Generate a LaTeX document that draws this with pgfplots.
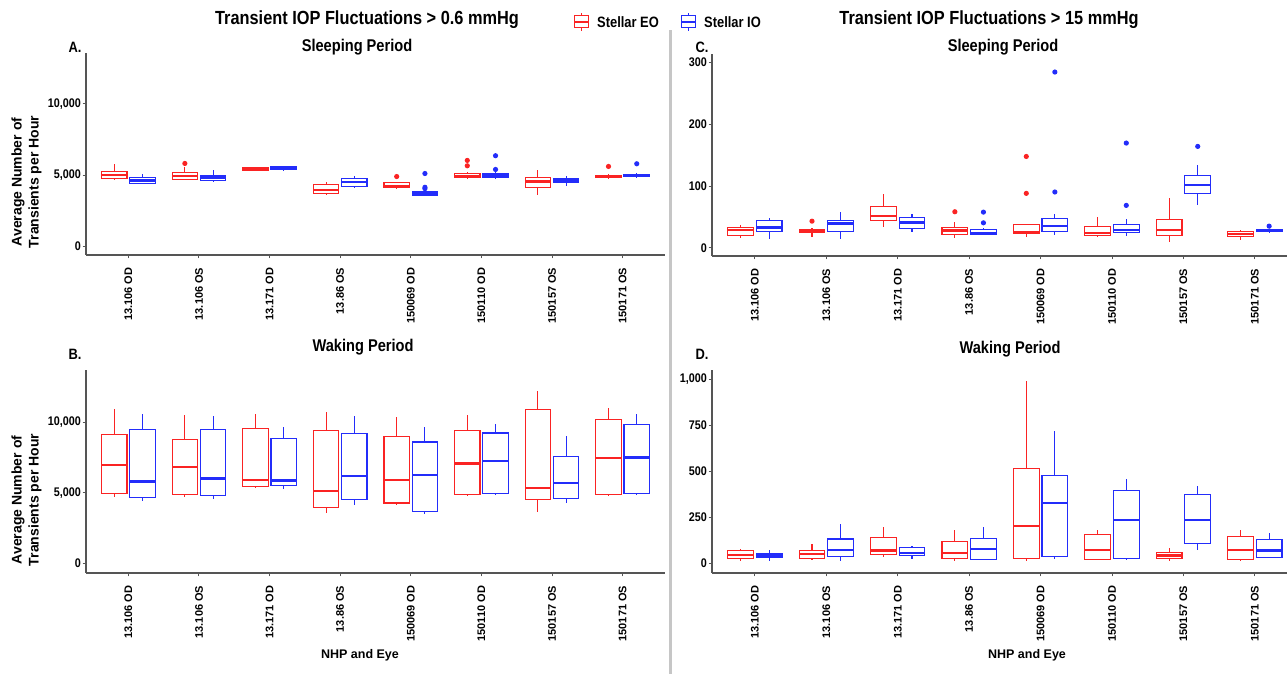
\documentclass[border=0pt]{standalone}
\usepackage{fontspec}
\setmainfont{Liberation Sans}
\newfontfamily\nar{Liberation Sans}[FakeStretch=0.86]
\usepackage{pgfplots}
\pgfplotsset{compat=1.18}
\usepgfplotslibrary{statistics}

\definecolor{eo}{RGB}{250,35,35}
\definecolor{io}{RGB}{35,45,250}
\definecolor{axgray}{RGB}{85,85,85}

% one box: colour, position, lower whisker, lower quartile, median, upper quartile, upper whisker, outliers
\newcommand{\bx}[8]{%
  \addplot[draw=#1, line width=1.1pt, mark=*, mark size=2pt,
    mark options={solid, fill=#1, draw=none},
    boxplot prepared={draw position=#2, lower whisker=#3, lower quartile=#4,
      median=#5, upper quartile=#6, upper whisker=#7,
      box extend=0.36, whisker extend=0,
      every median/.style={line width=2.4pt}}]
    coordinates {#8};}

\pgfplotsset{panel/.style={
    scale only axis, anchor=south west,
    boxplot/draw direction=y,
    scaled y ticks=false,
    axis x line*=bottom, axis y line*=left,
    axis line style={axgray, line width=1.4pt, -},
    tick style={axgray, line width=1pt},
    tick align=outside, major tick length=3.5pt,
    xtick={0,...,7},
    xticklabels={13.106 OD,13.106 OS,13.171 OD,13.86 OS,150069 OD,150110 OD,150157 OS,150171 OS},
    xticklabel style={rotate=90, anchor=east, font=\fontsize{11}{13}\selectfont\bfseries, inner ysep=2pt, inner xsep=9pt},
    yticklabel style={font=\fontsize{12.5}{14}\nar\bfseries, inner sep=1.5pt},
    clip=false,
}}

\begin{document}
\begin{tikzpicture}
\useasboundingbox (0pt,0pt) rectangle (1287pt,674pt);

% ---------------- A: sleeping, > 0.6 mmHg
\begin{axis}[panel, at={(86pt,419pt)}, width=579pt, height=202pt,
    xmin=-0.6, xmax=7.6, ymin=-630, ymax=13590,
    ytick={0,5000,10000}, yticklabels={0,{5,000},{10,000}}]
\bx{eo}{-0.2}{4680}{4752}{4988}{5224}{5745}{}
\bx{io}{0.2}{4350}{4421}{4610}{4823}{5106}{}
\bx{eo}{0.8}{4633}{4704}{4917}{5154}{5532}{(0,5815)}
\bx{io}{1.2}{4515}{4633}{4823}{4964}{5319}{}
\bx{eo}{1.8}{5272}{5319}{5414}{5508}{5579}{}
\bx{io}{2.2}{5272}{5390}{5508}{5579}{5626}{}
\bx{eo}{2.8}{3570}{3688}{3948}{4326}{4539}{}
\bx{io}{3.2}{4090}{4208}{4492}{4728}{4917}{}
\bx{eo}{3.8}{4066}{4113}{4232}{4444}{4539}{(0,4893)}
\bx{io}{4.2}{3499}{3570}{3688}{3806}{3877}{(0,5106) (0,4137) (0,4042)}
\bx{eo}{4.8}{4752}{4799}{4941}{5106}{5201}{(0,6028) (0,5650)}
\bx{io}{5.2}{4752}{4823}{4964}{5106}{5224}{(0,6359) (0,5390)}
\bx{eo}{5.8}{3617}{4137}{4539}{4823}{5366}{}
\bx{io}{6.2}{4255}{4444}{4610}{4752}{4917}{}
\bx{eo}{6.8}{4752}{4823}{4893}{4988}{5106}{(0,5603)}
\bx{io}{7.2}{4823}{4870}{4964}{5059}{5154}{(0,5792)}
\end{axis}

% ---------------- B: waking, > 0.6 mmHg
\begin{axis}[panel, at={(86pt,101pt)}, width=579pt, height=203pt,
    xmin=-0.6, xmax=7.6, ymin=-680, ymax=13690,
    ytick={0,5000,10000}, yticklabels={0,{5,000},{10,000}}]
\bx{eo}{-0.2}{4719}{4952}{6961}{9110}{10933}{}
\bx{io}{0.2}{4392}{4672}{5793}{9508}{10605}{}
\bx{eo}{0.8}{4719}{4906}{6821}{8760}{10512}{}
\bx{io}{1.2}{4555}{4836}{6004}{9461}{10465}{}
\bx{eo}{1.8}{5326}{5420}{5887}{9578}{10605}{}
\bx{io}{2.2}{5256}{5490}{5863}{8830}{9648}{}
\bx{eo}{2.8}{3597}{3971}{5139}{9391}{10699}{}
\bx{io}{3.2}{4135}{4508}{6167}{9204}{10465}{}
\bx{eo}{3.8}{4158}{4275}{5910}{8994}{10348}{}
\bx{io}{4.2}{3504}{3668}{6260}{8596}{9624}{}
\bx{eo}{4.8}{4789}{4906}{7078}{9414}{10489}{}
\bx{io}{5.2}{4812}{4952}{7265}{9227}{9881}{}
\bx{eo}{5.8}{3621}{4508}{5326}{10886}{12217}{}
\bx{io}{6.2}{4275}{4625}{5676}{7592}{9040}{}
\bx{eo}{6.8}{4765}{4906}{7452}{10208}{11026}{}
\bx{io}{7.2}{4836}{4929}{7499}{9811}{10605}{}
\end{axis}

% ---------------- C: sleeping, > 15 mmHg
\begin{axis}[panel, at={(712pt,418pt)}, width=575pt, height=202pt,
    xmin=-0.6, xmax=7.45, ymin=-13, ymax=314,
    ytick={0,100,200,300}, yticklabels={0,100,200,300}]
\bx{eo}{-0.2}{16.8}{20.6}{28.8}{33.1}{36.9}{}
\bx{io}{0.2}{15.2}{26.6}{33.1}{43.9}{47.7}{}
\bx{eo}{0.8}{17.9}{25.0}{27.7}{30.4}{32.5}{(0,43.4)}
\bx{io}{1.2}{15.2}{26.0}{39.6}{45.0}{58.6}{}
\bx{eo}{1.8}{34.2}{43.9}{51.5}{66.7}{86.8}{}
\bx{io}{2.2}{26.0}{32.0}{41.2}{49.4}{54.8}{}
\bx{eo}{2.8}{16.8}{21.7}{28.2}{33.1}{42.3}{(0,58.6)}
\bx{io}{3.2}{20.6}{22.2}{24.4}{29.8}{32.5}{(0,58.0) (0,40.7)}
\bx{eo}{3.8}{17.9}{23.3}{25.0}{38.0}{38.0}{(0,148.1) (0,88.4)}
\bx{io}{4.2}{21.7}{27.1}{35.8}{47.2}{54.8}{(0,284.8) (0,90.6)}
\bx{eo}{4.8}{19.0}{19.5}{24.4}{34.2}{50.5}{}
\bx{io}{5.2}{19.5}{25.0}{28.8}{38.0}{46.1}{(0,169.8) (0,68.9)}
\bx{eo}{5.8}{9.8}{19.5}{29.3}{46.1}{80.3}{}
\bx{io}{6.2}{69.4}{88.4}{102.0}{117.7}{134.0}{(0,164.4)}
\bx{eo}{6.8}{12.5}{19.0}{22.2}{26.0}{29.8}{}
\bx{io}{7.2}{26.0}{26.6}{28.8}{30.4}{30.5}{(0,35.3)}
\end{axis}

% ---------------- D: waking, > 15 mmHg
\begin{axis}[panel, at={(712pt,101pt)}, width=575pt, height=203pt,
    xmin=-0.6, xmax=7.45, ymin=-53, ymax=1050,
    ytick={0,250,500,750,1000}, yticklabels={0,250,500,750,{1,000}}]
\bx{eo}{-0.2}{14.5}{25.0}{45.0}{67.0}{76.0}{}
\bx{io}{0.2}{14.5}{29.0}{41.7}{52.5}{70.7}{}
\bx{eo}{0.8}{18.0}{25.0}{50.7}{70.7}{107.0}{}
\bx{io}{1.2}{14.5}{36.2}{72.5}{132.0}{212.0}{}
\bx{eo}{1.8}{32.6}{48.9}{68.8}{137.7}{195.7}{}
\bx{io}{2.2}{25.4}{39.9}{54.3}{83.3}{94.2}{}
\bx{eo}{2.8}{14.5}{27.2}{56.2}{117.8}{181.0}{}
\bx{io}{3.2}{21.7}{21.7}{77.9}{134.0}{197.5}{}
\bx{eo}{3.8}{14.5}{25.4}{202.9}{516.3}{992.8}{}
\bx{io}{4.2}{21.7}{36.2}{326.0}{476.5}{721.0}{}
\bx{eo}{4.8}{18.0}{21.7}{72.5}{154.0}{181.0}{}
\bx{io}{5.2}{18.0}{27.2}{233.7}{396.7}{458.0}{}
\bx{eo}{5.8}{10.9}{25.4}{41.7}{58.0}{81.5}{}
\bx{io}{6.2}{70.7}{105.0}{235.5}{371.4}{420.0}{}
\bx{eo}{6.8}{14.5}{21.7}{70.7}{143.0}{181.0}{}
\bx{io}{7.2}{29.0}{29.0}{68.8}{130.4}{165.0}{}
\end{axis}

\begin{scope}[x=1pt, y=1pt]
% separator
\draw[gray!45, line width=3pt] (670,0) -- (670,644);

% titles and labels
\begin{scope}[every node/.style={inner sep=0pt}]
\node[font=\fontsize{19}{22}\nar\bfseries] at (367,654) {Transient IOP Fluctuations > 0.6 mmHg};
\node[font=\fontsize{19}{22}\nar\bfseries] at (989,654) {Transient IOP Fluctuations > 15 mmHg};
\node[font=\fontsize{17}{20}\nar\bfseries] at (357,627) {Sleeping Period};
\node[font=\fontsize{17}{20}\nar\bfseries] at (1003,627) {Sleeping Period};
\node[font=\fontsize{17}{20}\nar\bfseries] at (363,327) {Waking Period};
\node[font=\fontsize{17}{20}\nar\bfseries] at (1010,325) {Waking Period};
\node[font=\fontsize{15}{18}\nar\bfseries] at (75,627) {A.};
\node[font=\fontsize{15}{18}\nar\bfseries] at (702,627) {C.};
\node[font=\fontsize{15}{18}\nar\bfseries] at (75,320) {B.};
\node[font=\fontsize{15}{18}\nar\bfseries] at (702,320) {D.};
\node[font=\fontsize{12.5}{15}\selectfont\bfseries] at (360,19) {NHP and Eye};
\node[font=\fontsize{12.5}{15}\selectfont\bfseries] at (1027,19) {NHP and Eye};
\node[rotate=90, align=center, font=\fontsize{14}{17}\selectfont\bfseries] at (26.5,492) {Average Number  of\\Transients per Hour};
\node[rotate=90, align=center, font=\fontsize{14}{17}\selectfont\bfseries] at (26.5,174) {Average Number  of\\Transients per Hour};
\end{scope}

% legend
\foreach \c/\xc/\t in {eo/581/Stellar EO, io/688/Stellar IO}{
  \draw[\c, line width=1pt] (\xc,643) -- (\xc,661);
  \filldraw[\c, fill=white, line width=1pt] (\xc-7,646) rectangle (\xc+7,658);
  \draw[\c, line width=1.4pt] (\xc-7,652) -- (\xc+7,652);
  \node[anchor=west, font=\fontsize{15}{18}\nar\bfseries, inner sep=0pt] at (\xc+16,652) {\t};
}
\end{scope}
\end{tikzpicture}
\end{document}
